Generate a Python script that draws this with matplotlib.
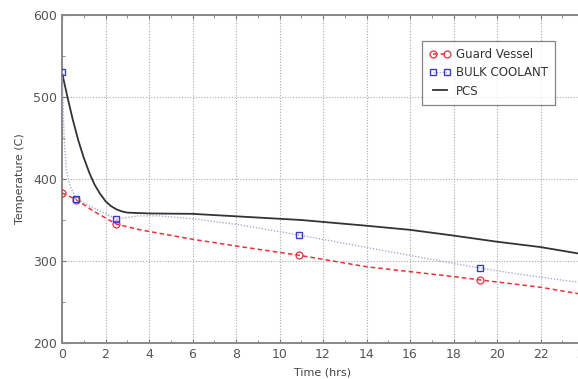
import numpy as np
import matplotlib
matplotlib.use("Agg")
import matplotlib.pyplot as plt
from matplotlib.ticker import MultipleLocator

# Guard Vessel (red dashed, circles)
gv_t = [0, 0.64, 1.5, 2.5, 3.6, 6.0, 8.2, 10.9, 14.0, 18.0, 19.2, 22.0, 24.0]
gv_T = [383, 375, 360, 345, 338, 326.5, 317.5, 307, 293, 281, 277, 268, 259]
gv_marks = [0, 1, 3, 7, 10]

# BULK COOLANT (blue dotted, squares)
bc_t = [0, 0.1, 0.2, 0.37, 0.64, 2.5, 3.5, 4.5, 6.2, 8.2, 10.9, 14.0, 18.0, 19.2, 21.0, 24.0]
bc_T = [531, 450, 410, 392, 375.6, 351, 355, 355, 351, 344, 331.7, 316.5, 297, 291.5, 284, 273]
bc_marks = [0, 4, 5, 10, 13]

# PCS (black solid)
pcs_t = [0, 0.25, 0.5, 0.75, 1.0, 1.25, 1.5, 1.75, 2.0, 2.25, 2.5, 2.75, 3.0,
         4.0, 6.0, 8.0, 11.0, 14.0, 16.0, 18.0, 20.0, 22.0, 24.0]
pcs_T = [530, 500, 472, 447, 426, 408, 393, 382, 373, 367, 363, 360.5, 359,
         358, 357.5, 354.5, 350, 343, 338, 331, 323.5, 317, 308]

fig = plt.figure(figsize=(5.78, 3.79), dpi=100)
ax = fig.add_axes([62/578, 36/379, 522/578, 328/379])

ax.plot(gv_t, gv_T, color="#e8323c", ls=(0, (3, 2)), lw=1.1, marker="o",
        markevery=gv_marks, mfc="none", mec="#e0303a", ms=5, mew=0.9,
        label="Guard Vessel", zorder=3)
ax.plot(bc_t, bc_T, color="#a8b0c8", ls=(0, (1, 1.2)), lw=1.0, marker="s",
        markevery=bc_marks, mfc="none", mec="#3a3acc", ms=5, mew=1.0,
        label="BULK COOLANT", zorder=4)
ax.plot(pcs_t, pcs_T, color="#333333", lw=1.3, label="PCS", zorder=2)

ax.set_xlim(0, 24)
ax.set_ylim(200, 600)
ax.xaxis.set_major_locator(MultipleLocator(2))
ax.xaxis.set_minor_locator(MultipleLocator(1))
ax.yaxis.set_major_locator(MultipleLocator(100))
ax.yaxis.set_minor_locator(MultipleLocator(50))
ax.tick_params(which="both", direction="in", top=True, right=True,
               colors="#777777", labelcolor="#555555", labelsize=9)
ax.tick_params(which="major", length=3)
ax.tick_params(which="minor", length=2)
ax.grid(True, which="major", color="#aaaaaa", ls=(0, (1, 1.5)), lw=0.8)
for s in ax.spines.values():
    s.set_color("#888888")
    s.set_linewidth(1.4)

ax.set_xlabel("Time (hrs)", fontsize=8, color="#444444", labelpad=5)
ax.set_ylabel("Temperature (C)", fontsize=8, color="#444444", labelpad=6)

leg = ax.legend(loc="upper left", bbox_to_anchor=(354/522, 1 - 20/328),
                numpoints=2, fontsize=8.5, frameon=True, fancybox=False,
                handlelength=1.8, handletextpad=0.5, borderpad=0.6,
                labelspacing=0.45)
leg.get_frame().set_edgecolor("#666666")
leg.get_frame().set_linewidth(0.9)
for t in leg.get_texts():
    t.set_color("#333333")

fig.savefig("out.png", dpi=100)
